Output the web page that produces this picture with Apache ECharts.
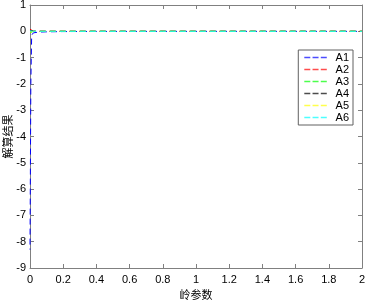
<!DOCTYPE html>
<html><head><meta charset="utf-8">
<script src="https://cdn.jsdelivr.net/npm/echarts@6/dist/echarts.min.js"></script>
<style>html,body{margin:0;padding:0;background:#fff}#c{width:368px;height:301px}</style>
</head><body><div id="c"></div>
<script>
const k = [0, 0.005, 0.01, 0.02, 0.05, 0.1, 0.2, 0.4, 0.6, 0.8, 1.0, 1.2, 1.4, 1.6, 1.8, 2.0];
const A1 = [-8.3, -2.0, -0.15, -0.06, -0.03, -0.02, -0.01, -0.005, -0.004, -0.003, -0.003, -0.002, -0.002, -0.002, -0.002, -0.002];
const A2 = [0.08, 0.03, 0.01, 0.005, 0.003, 0.002, 0.001, 0.001, 0.001, 0.001, 0.001, 0.001, 0.001, 0.001, 0.001, 0.001];
const A3 = [-0.05, -0.02, -0.01, -0.005, -0.003, -0.002, -0.001, -0.001, -0.001, -0.001, -0.001, -0.001, -0.001, -0.001, -0.001, -0.001];
const A4 = [0.04, 0.02, 0.008, 0.004, 0.002, 0.001, 0.001, 0.001, 0.001, 0.001, 0.001, 0.001, 0.001, 0.001, 0.001, 0.001];
const A5 = [-0.03, -0.01, -0.005, -0.003, -0.002, -0.001, -0.001, 0, 0, 0, 0, 0, 0, 0, 0, 0];
const A6 = [0.02, 0.01, 0.004, 0.002, 0.001, 0.001, 0, 0, 0, 0, 0, 0, 0, 0, 0, 0];
const names = ['A1','A2','A3','A4','A5','A6'];
const colors = ['#0000ff','#ff0000','#00ff00','#000000','#ffff00','#00ffff'];
const vals = [A1,A2,A3,A4,A5,A6];
const xTicks = [0,0.2,0.4,0.6,0.8,1,1.2,1.4,1.6,1.8,2];

const chart = echarts.init(document.getElementById('c'), null, {renderer:'canvas'});
const font = 'Liberation Sans, Arial, sans-serif';
const axisCol = '#808080';
const dashIcon = 'path://M0 0h8v2H0z M11 0h8v2h-8z M22 0h8v2h-8z';
function base(){ return {
  axisLine:{show:true,onZero:false,lineStyle:{color:axisCol,width:1}},
  axisTick:{show:true,inside:true,length:4,lineStyle:{color:axisCol}},
  splitLine:{show:false}
};}
chart.setOption({
  animation:false,
  backgroundColor:'#fff',
  grid:{left:30,right:6,top:5,bottom:33,containLabel:false,outerBoundsMode:'none'},
  legend:{
    data:names.map((n,i)=>({name:n,icon:dashIcon,itemStyle:{color:colors[i],opacity:0.7}})),
    orient:'vertical', right:15, top:50,
    itemWidth:30, itemHeight:1.5, itemGap:1,
    padding:[2,4,2,6],
    borderColor:'#606060', borderWidth:1, backgroundColor:'#fff',
    textStyle:{fontFamily:font,fontSize:11,color:'#000'}
  },
  xAxis:[
    Object.assign({type:'value',min:0,max:2,interval:0.2,position:'bottom',
      name:'岭参数',nameLocation:'middle',nameGap:21,nameMoveOverlap:false,
      nameTextStyle:{fontFamily:'Noto Sans CJK SC',fontSize:11,color:'#000'},
      axisLabel:{fontFamily:font,fontSize:11,color:'#000',margin:6,
        formatter:v=>{const t=xTicks.find(x=>Math.abs(x-v)<1e-9);return String(t);} }},base()),
    Object.assign({type:'value',min:0,max:2,interval:0.2,position:'top',axisLabel:{show:false}},base())
  ],
  yAxis:[
    Object.assign({type:'value',min:-9,max:1,interval:1,position:'left',
      name:'解算结果',nameLocation:'middle',nameGap:17,nameRotate:90,nameMoveOverlap:false,
      nameTextStyle:{fontFamily:'Noto Sans CJK SC',fontSize:11,color:'#000'},
      axisLabel:{fontFamily:font,fontSize:11,color:'#000',margin:4}},base()),
    Object.assign({type:'value',min:-9,max:1,interval:1,position:'right',axisLabel:{show:false}},base())
  ],
  series: names.map((n,i)=>({
    name:n, type:'line', showSymbol:false, symbol:'none',
    data:k.map((x,j)=>[x,vals[i][j]]),
    lineStyle:{color:colors[i],width:1,type:[6,4],dashOffset:(i===0?5:0)},
    itemStyle:{color:colors[i]}
  }))
});
</script></body></html>
